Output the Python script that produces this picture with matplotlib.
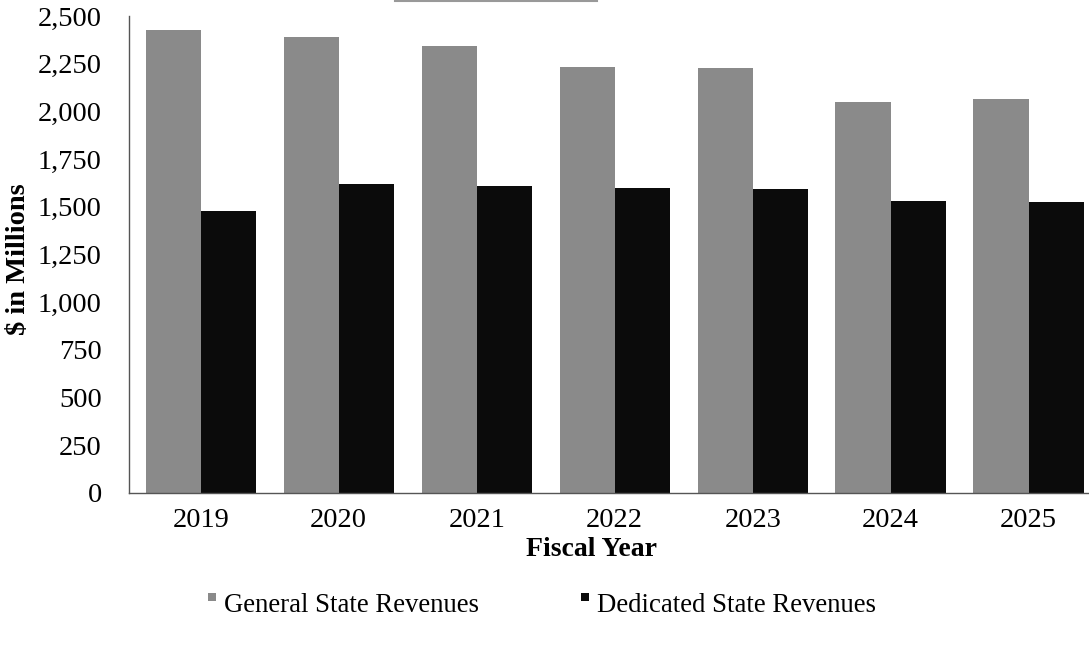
import matplotlib
matplotlib.use("Agg")
import matplotlib.pyplot as plt
import numpy as np
from matplotlib.lines import Line2D
from matplotlib.legend_handler import HandlerLine2D

years = ["2019", "2020", "2021", "2022", "2023", "2024", "2025"]
general = [2425, 2390, 2345, 2235, 2225, 2050, 2065]
dedicated = [1480, 1620, 1610, 1598, 1595, 1530, 1525]
series_names = ["General State Revenues", "Dedicated State Revenues"]
yticks = [0, 250, 500, 750, 1000, 1250, 1500, 1750, 2000, 2250, 2500]

plt.rcParams['font.family'] = ['Liberation Serif', 'DejaVu Serif']

W, H = 1089, 650
fig = plt.figure(figsize=(W / 100, H / 100), dpi=100)
ax_left, ax_right, ax_top, ax_bot = 129, 1088, 16, 493
ax = fig.add_axes([ax_left / W, 1 - ax_bot / H, (ax_right - ax_left) / W, (ax_bot - ax_top) / H])

x = np.arange(len(years))
bw = 0.4
gray = '#8a8a8a'
black = '#0b0b0b'
ax.bar(x - bw / 2, general, width=bw, color=gray, edgecolor='none')
ax.bar(x + bw / 2, dedicated, width=bw, color=black, edgecolor='none')

ax.set_xlim(-0.52, 6.43)
ax.set_ylim(0, 2500)
ax.set_yticks(yticks)
ax.set_yticklabels([f"{v:,}" for v in yticks])
ax.set_xticks(x)
ax.set_xticklabels(years)
ax.tick_params(axis='y', length=0, pad=19.5, labelsize=20.5)
ax.tick_params(axis='x', length=0, pad=11, labelsize=20.5)

for s in ['top', 'right']:
    ax.spines[s].set_visible(False)
for s in ['left', 'bottom']:
    ax.spines[s].set_color('#555555')
    ax.spines[s].set_linewidth(1.0)

ax.set_xlabel("Fiscal Year", fontsize=20, fontweight='bold')
ax.xaxis.set_label_coords((591 - ax_left) / (ax_right - ax_left), -(549 - ax_bot) / (ax_bot - ax_top))
ax.xaxis.label.set_va('center')
ax.set_ylabel("$ in Millions", fontsize=20.5, fontweight='bold')
ax.yaxis.set_label_coords(-(ax_left - 19) / (ax_right - ax_left), (ax_bot - 259) / (ax_bot - ax_top))
ax.yaxis.label.set_va('center')


class RaisedHandler(HandlerLine2D):
    def create_artists(self, legend, orig_handle, xdescent, ydescent, width, height, fontsize, trans):
        arts = super().create_artists(legend, orig_handle, xdescent, ydescent, width, height, fontsize, trans)
        for a in arts:
            a.set_ydata([v + height * 0.3 for v in a.get_ydata()])
        return arts


handles = [Line2D([], [], linestyle='none', marker='s', markersize=6, color=c, markeredgewidth=0)
           for c in (gray, black)]
leg = fig.legend(handles, series_names, loc='center left', bbox_to_anchor=(205 / W, 1 - 606 / H),
                 ncol=2, frameon=False, fontsize=19.3, handlelength=0.5, handletextpad=0.2,
                 columnspacing=3.7, borderaxespad=0, borderpad=0,
                 handler_map={Line2D: RaisedHandler()})

fig.add_artist(Line2D([395 / W, 597 / W], [1 - 1 / H, 1 - 1 / H], color='#999999', lw=1.5))

fig.savefig("out.png", dpi=100)
